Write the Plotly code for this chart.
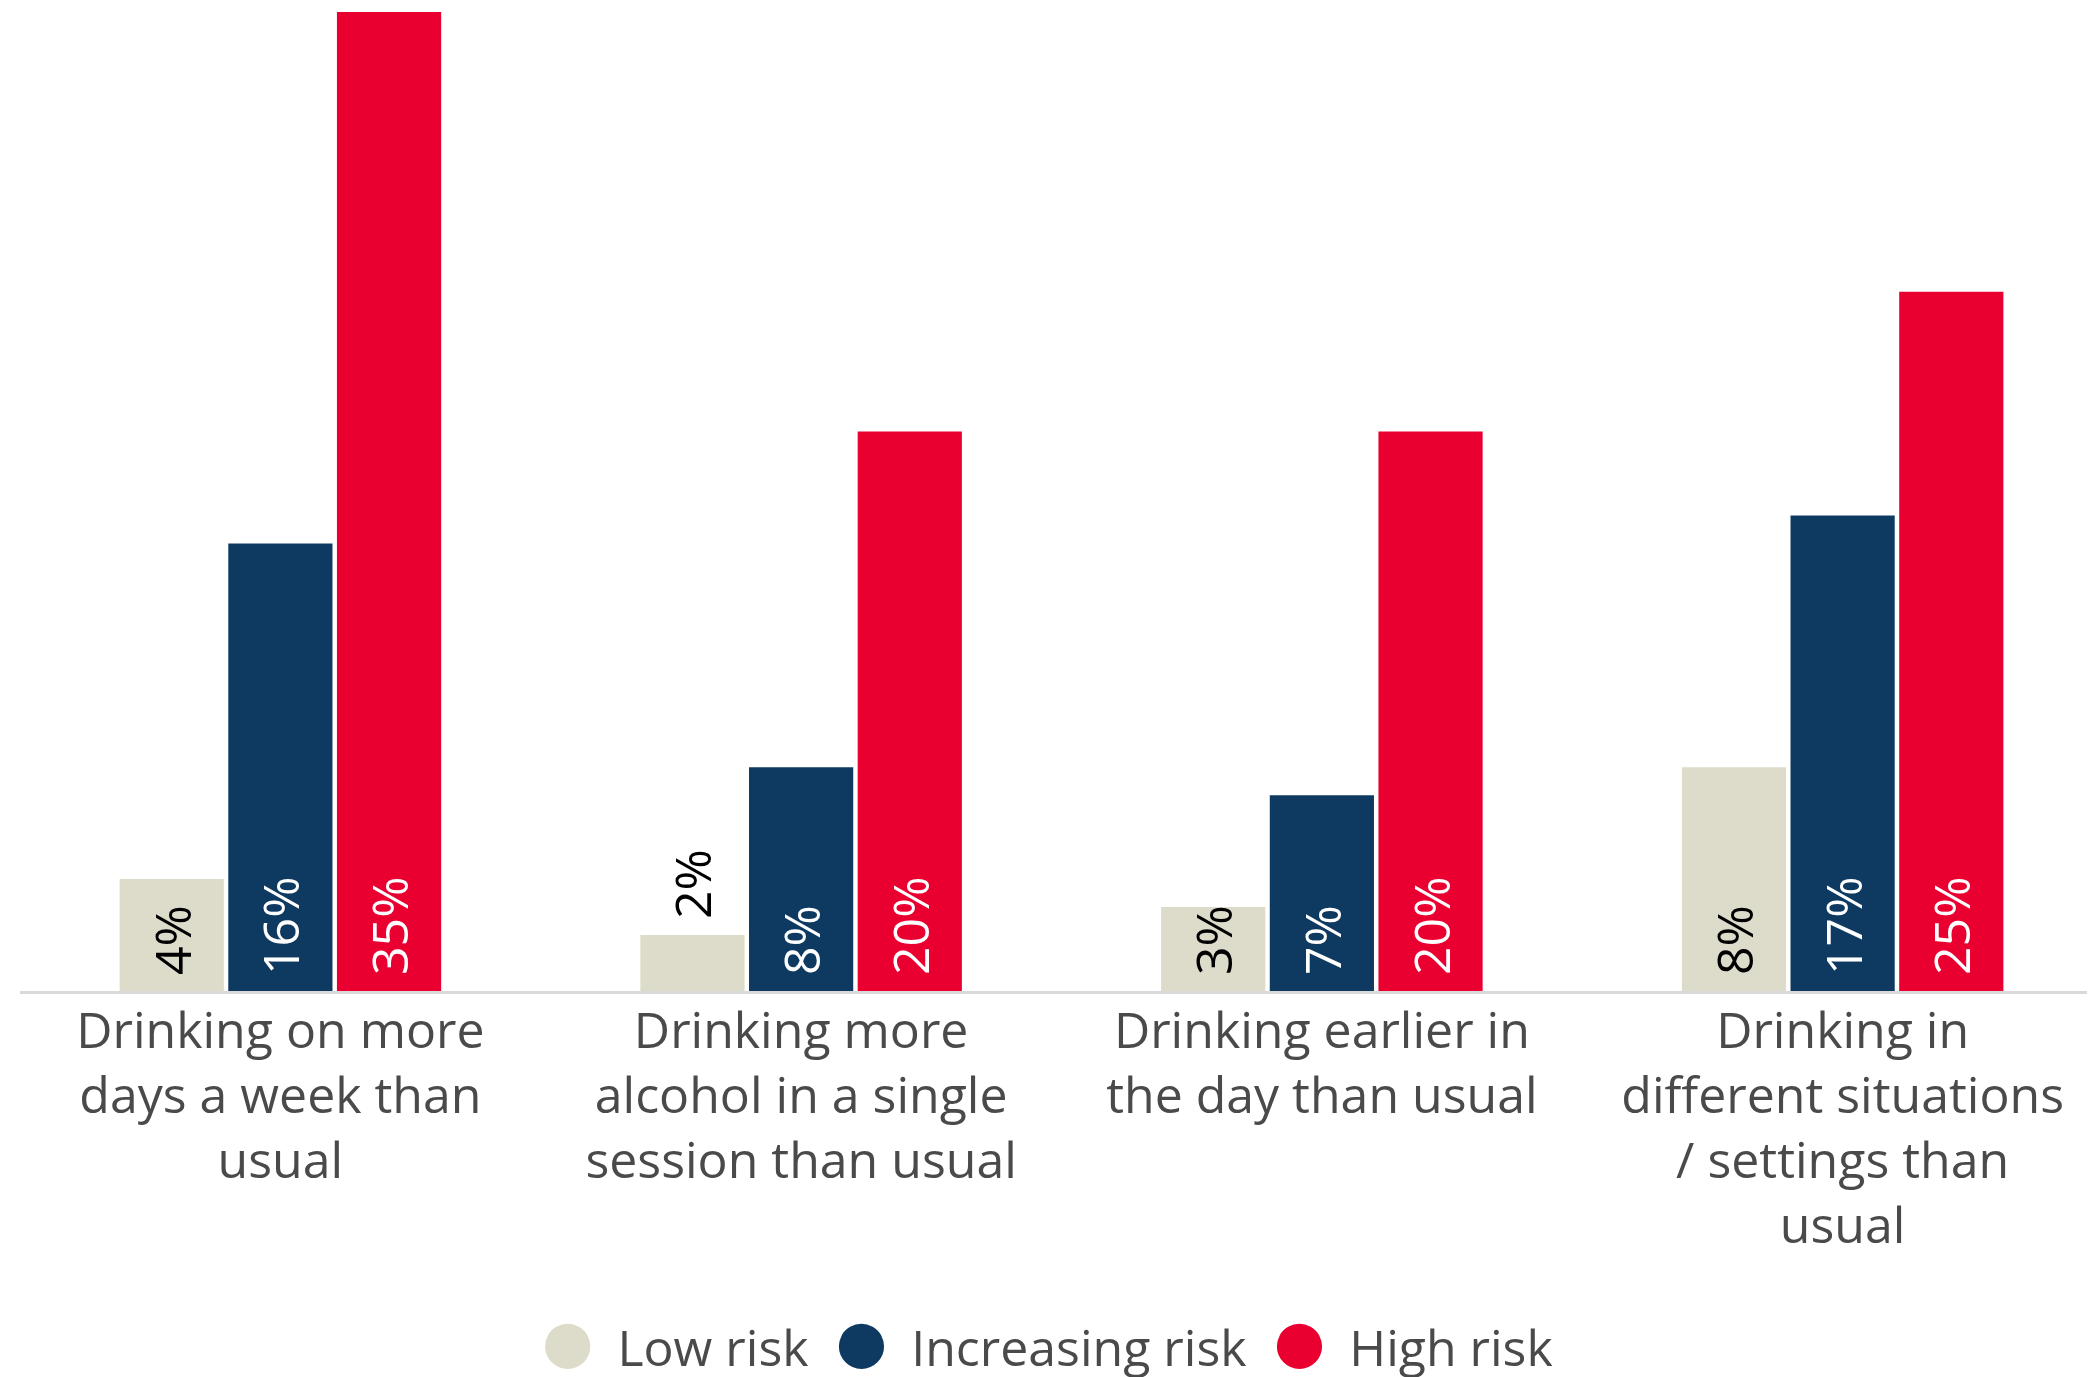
import plotly.graph_objects as go

categories = [
    "Drinking on more<br>days a week than<br>usual",
    "Drinking more<br>alcohol in a single<br>session than usual",
    "Drinking earlier in<br>the day than usual",
    "Drinking in<br>different situations<br>/ settings than<br>usual",
]
series_names = ["Low risk", "Increasing risk", "High risk"]
low_risk = [4, 2, 3, 8]
increasing_risk = [16, 8, 7, 17]
high_risk = [35, 20, 20, 25]

colors = ["#DDDBC9", "#0E3A62", "#EA0030"]
label_colors = ["#000000", "#FFFFFF", "#FFFFFF"]
FONT = "Open Sans"
TEXT_GREY = "#4A4A4A"

fig = go.Figure()
for name, vals, col, lcol in zip(series_names, [low_risk, increasing_risk, high_risk], colors, label_colors):
    positions = ["inside" if v >= 3 else "outside" for v in vals]
    fig.add_trace(go.Bar(
        x=categories, y=vals, name=name,
        marker=dict(color=col, line=dict(width=0)),
        text=[f"\u00a0{v}%" for v in vals],
        textposition=positions,
        textangle=-90,
        insidetextanchor="start",
        constraintext="none",
        insidetextfont=dict(family=FONT, size=50, color=lcol),
        outsidetextfont=dict(family=FONT, size=50, color="#000000"),
        cliponaxis=False,
        showlegend=False,
    ))

legend_text = "\u00a0\u2006".join(
    f"<sub><span style='color:{c};font-size:105px'>●</span></sub>\u00a0\u200a{n}"
    for n, c in zip(series_names, colors)
)

fig.update_layout(
    width=2095, height=1377,
    margin=dict(l=12, r=0, t=4, b=394),
    paper_bgcolor="white", plot_bgcolor="white",
    barmode="group", bargap=0.374, bargroupgap=0.041,
    font=dict(family=FONT, color=TEXT_GREY),
    xaxis=dict(
        range=[-0.5, 3.5],
        showline=True, linecolor="#D9D9D9", linewidth=3,
        showgrid=False, ticks="",
        tickfont=dict(family=FONT, size=50, color=TEXT_GREY),
        tickangle=0,
        ticklabelstandoff=-6,
    ),
    yaxis=dict(range=[0, 35], visible=False, showgrid=False),
    annotations=[dict(
        text=legend_text, xref="paper", yref="paper",
        x=0.492, y=-0.352, xanchor="center", yanchor="middle",
        showarrow=False,
        font=dict(family=FONT, size=50, color=TEXT_GREY),
    )],
)

fig.write_html("out.html")
